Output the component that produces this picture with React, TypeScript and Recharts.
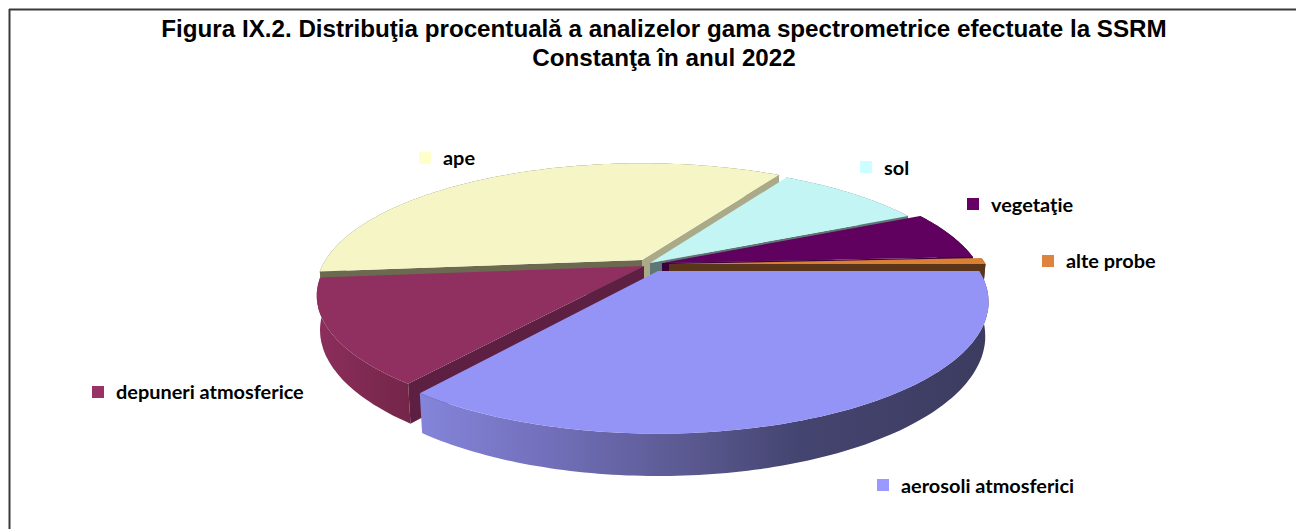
import { PieChart, Pie } from "recharts";

const CATEGORIES = ["aerosoli atmosferici", "depuneri atmosferice", "ape", "sol", "vegetaţie", "alte probe"];
const PERCENTS = [35.3, 13.2, 35.2, 9.2, 6.3, 0.8];
const TITLE_LINES = [
  "Figura IX.2. Distribuţia procentuală a analizelor gama spectrometrice efectuate la SSRM",
  "Constanţa în anul 2022",
];
// back to front, the later slices hide the cut faces of the earlier ones
const PAINT_LAYERS = [["ape", "sol", "vegetaţie", "alte probe"], ["depuneri atmosferice"], ["aerosoli atmosferici"]];

const chartData = CATEGORIES.map((name, i) => ({ name, value: PERCENTS[i] }));

// perspective of the tilted disc
const TILT = 0.381;
const KEYSTONE = 0.234;
const DEPTH = 32.5;
const BOTTOM_SCALE = 0.99;

const LOOK: Record<string, any> = {
  "aerosoli atmosferici": {
    top: "#9494f7", swatch: "#9999ff", cutStart: "#3c3c60", cutEnd: "#3c3c60",
    wall: [[0, "#8484da"], [0.2, "#7472be"], [0.48, "#5a588f"], [0.67, "#444470"], [1, "#3c3c60"]],
    dx: 8, dy: 7, sx: 0.995, sy: 1.012, legend: [877, 479, 901, 493],
  },
  "depuneri atmosferice": {
    top: "#903060", swatch: "#993366", cutStart: "#5e2042", cutEnd: "#5e2042",
    wall: [[0, "#8c2e5c"], [1, "#742649"]],
    dx: -6, dy: 2, sx: 0.985, sy: 0.975, legend: [92, 386, 116, 399],
  },
  ape: {
    top: "#f5f5c6", swatch: "#ffffcc", cutStart: "#6b6a50", cutEnd: "#abaa88",
    wall: [[0, "#6b6a50"], [1, "#6b6a50"]],
    dx: -8, dy: -4, sx: 0.98, sy: 0.97, legend: [419, 152, 443, 165],
  },
  sol: {
    top: "#c3f5f5", swatch: "#ccffff", cutStart: "#5f7676", cutEnd: "#5f7676",
    wall: [[0, "#5f7676"], [1, "#5f7676"]],
    dx: 0, dy: -1, sx: 0.975, sy: 0.975, legend: [860, 161, 884, 175],
  },
  "vegetaţie": {
    top: "#60005f", swatch: "#660066", cutStart: "#3a003a", cutEnd: "#3a003a",
    wall: [[0, "#3a003a"], [1, "#3a003a"]],
    dx: 12, dy: -1, sx: 0.975, sy: 0.975, legend: [967, 198, 991, 212],
  },
  "alte probe": {
    top: "#d98035", swatch: "#dd8440", cutStart: "#5b351a", cutEnd: "#5b351a",
    wall: [[0, "#5b351a"], [1, "#5b351a"]],
    dx: 19, dy: 0, sx: 0.98, sy: 0.98, legend: [1042, 255, 1066, 268],
  },
};

function poly(pts: number[][]) {
  return pts.map((p, i) => `${i ? "L" : "M"}${p[0].toFixed(1)} ${p[1].toFixed(1)}`).join(" ") + " Z";
}

const cosDeg = (deg: number) => Math.cos((deg * Math.PI) / 180);

function Slice3D(props: any) {
  const { cx, cy, outerRadius, startAngle, endAngle, name } = props;
  const look = LOOK[name];
  const ox = cx + look.dx;
  const oy = cy + look.dy;
  const rx = outerRadius * look.sx;
  const ry = outerRadius * TILT * look.sy;

  const top = (deg: number) => {
    const t = (-deg * Math.PI) / 180;
    const u = Math.cos(t);
    const v = Math.sin(t);
    const w = 1 - KEYSTONE * v;
    return [ox + (rx * u) / w, oy + (ry * v) / w, w];
  };
  const under = (p: number[]) => [ox + (p[0] - ox) * BOTTOM_SCALE, p[1] + DEPTH / p[2]];

  const steps = Math.max(2, Math.ceil(Math.abs(endAngle - startAngle)));
  const rim: number[][] = [];
  for (let i = 0; i <= steps; i++) {
    rim.push(top(startAngle + ((endAngle - startAngle) * i) / steps));
  }
  const apex = [ox, oy];
  const apexLow = [ox, oy + DEPTH];
  const first = rim[0];
  const last = rim[rim.length - 1];
  const wallPts = [...rim, ...rim.slice().reverse().map(under)];
  const gradId = `wall-${CATEGORIES.indexOf(name)}`;
  const xs = rim.map((p) => p[0]);

  return (
    <g>
      <defs>
        <linearGradient id={gradId} gradientUnits="userSpaceOnUse" x1={Math.min(...xs)} x2={Math.max(...xs)} y1={0} y2={0}>
          {look.wall.map((s: any[]) => (
            <stop key={s[0]} offset={s[0]} stopColor={s[1]} />
          ))}
        </linearGradient>
      </defs>
      <path d={poly(wallPts)} fill={`url(#${gradId})`} />
      {/* only the cut faces turned toward the viewer */}
      {cosDeg(startAngle) < 0 && <path d={poly([apex, first, under(first), apexLow])} fill={look.cutStart} />}
      {cosDeg(endAngle) > 0 && <path d={poly([apex, last, under(last), apexLow])} fill={look.cutEnd} />}
      <path d={poly([apex, ...rim])} fill={look.top} />
    </g>
  );
}

const layerShape = (names: string[]) => (p: any) => (names.includes(p.name) ? <Slice3D {...p} /> : <g />);

function legendLabel(p: any) {
  const [sx, sy, tx, ty] = LOOK[p.name].legend;
  return (
    <g key={p.name}>
      <rect x={sx} y={sy} width={12} height={12} fill={LOOK[p.name].swatch} />
      <text x={tx} y={ty} fontFamily="Lato" fontWeight={700} fontSize={19.9} fill="#000">
        {p.name}
      </text>
    </g>
  );
}

export default function App() {
  return (
    <div style={{ position: "absolute", left: 0, top: 0, width: 1296, height: 529 }}>
      <PieChart width={1296} height={529} margin={{ top: 0, right: 0, bottom: 0, left: 0 }}>
        <line x1={9} y1={9.5} x2={1296} y2={9.5} stroke="#3a3a3a" strokeWidth={2} />
        <line x1={9.5} y1={9} x2={9.5} y2={529} stroke="#3a3a3a" strokeWidth={2} />
        {TITLE_LINES.map((t, i) => (
          <text key={t} x={664} y={37 + i * 29} textAnchor="middle" fontFamily="Liberation Sans" fontWeight={700} fontSize={24.2} fill="#000">
            {t}
          </text>
        ))}
        {PAINT_LAYERS.map((names, i) => (
          <Pie
            key={i}
            data={chartData}
            dataKey="value"
            nameKey="name"
            cx={650}
            cy={264}
            outerRadius={323}
            startAngle={0}
            endAngle={-360}
            shape={layerShape(names)}
            label={i === 2 ? legendLabel : false}
            labelLine={false}
            isAnimationActive={false}
          />
        ))}
      </PieChart>
    </div>
  );
}
